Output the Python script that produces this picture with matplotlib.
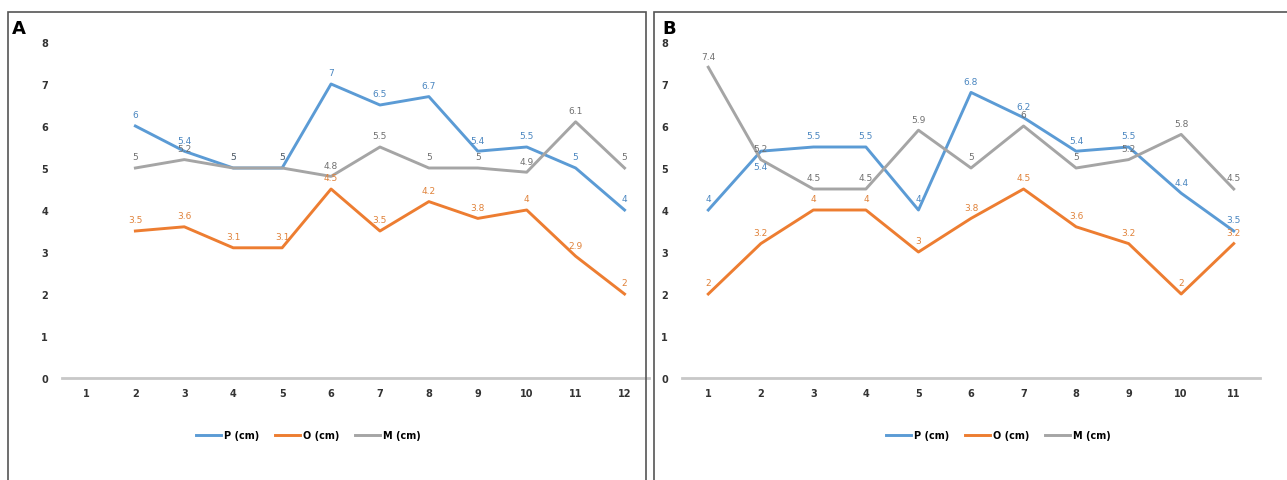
import matplotlib.pyplot as plt
from matplotlib.patches import Rectangle
import numpy as np

# panel A: samples 1..12, no measurement at 1
days_a = list(range(1, 13))
p_a = [np.nan, 6, 5.4, 5, 5, 7, 6.5, 6.7, 5.4, 5.5, 5, 4]
o_a = [np.nan, 3.5, 3.6, 3.1, 3.1, 4.5, 3.5, 4.2, 3.8, 4, 2.9, 2]
m_a = [np.nan, 5, 5.2, 5, 5, 4.8, 5.5, 5, 5, 4.9, 6.1, 5]

# panel B: samples 1..11
days_b = list(range(1, 12))
p_b = [4, 5.4, 5.5, 5.5, 4, 6.8, 6.2, 5.4, 5.5, 4.4, 3.5]
o_b = [2, 3.2, 4, 4, 3, 3.8, 4.5, 3.6, 3.2, 2, 3.2]
m_b = [7.4, 5.2, 4.5, 4.5, 5.9, 5, 6, 5, 5.2, 5.8, 4.5]

names = ['P (cm)', 'O (cm)', 'M (cm)']
colors = ['#5B9BD5', '#ED7D31', '#A5A5A5']
label_colors = ['#4A86C0', '#E0823A', '#707070']

W, H = 1287, 481
fig = plt.figure(figsize=(W / 100, H / 100), dpi=100)
plt.rcParams['font.family'] = 'DejaVu Sans'


def px_axes(x0, x1, y_top, y_bot):
    return fig.add_axes([x0 / W, (H - y_bot) / H, (x1 - x0) / W, (y_bot - y_top) / H])


# panel frames
for x0, x1 in [(8, 646), (654, 1290)]:
    fig.patches.append(Rectangle((x0 / W, -0.01), (x1 - x0) / W, (H - 13) / H + 0.01,
                                 transform=fig.transFigure, fill=False,
                                 edgecolor='#555555', linewidth=1.2))

fig.text(12 / W, (H - 29) / H, 'A', fontsize=13, fontweight='bold', va='center', ha='left')
fig.text(662 / W, (H - 29) / H, 'B', fontsize=13, fontweight='bold', va='center', ha='left')


def draw(ax, days, series, below=()):
    for i, (vals, c, lc, nm) in enumerate(zip(series, colors, label_colors, names)):
        ax.plot(days, vals, color=c, linewidth=2.1, label=nm, solid_joinstyle='round')
        for d, v in zip(days, vals):
            if np.isnan(v):
                continue
            off = -11 if (i, d) in below else 8
            ax.annotate(f'{v:g}', (d, v), xytext=(0, off), textcoords='offset points',
                        ha='center', va='center', fontsize=6.5, color=lc)
    ax.set_ylim(0, 8)
    ax.set_xlim(0.5, len(days) + 0.5)
    ax.set_xticks(days)
    ax.set_yticks(range(0, 9))
    for s in ['left', 'right', 'top']:
        ax.spines[s].set_visible(False)
    ax.spines['bottom'].set_color('#C8C8C8')
    ax.spines['bottom'].set_linewidth(2)
    ax.tick_params(length=0, labelsize=7, colors='#333333', pad=7)
    ax.tick_params(axis='y', pad=10)
    for t in ax.get_xticklabels() + ax.get_yticklabels():
        t.set_fontweight('bold')
    ax.patch.set_alpha(0)


ax_a = px_axes(62, 649, 43, 379)
draw(ax_a, days_a, [p_a, o_a, m_a])
ax_a.legend(loc='center', bbox_to_anchor=(0.42, -0.17), ncol=3, frameon=False,
            handlelength=2.6, columnspacing=1.6, handletextpad=0.3,
            prop={'weight': 'bold', 'size': 7})

ax_b = px_axes(682, 1260, 43, 379)
draw(ax_b, days_b, [p_b, o_b, m_b], below={(0, 2)})
ax_b.legend(loc='center', bbox_to_anchor=(0.547, -0.17), ncol=3, frameon=False,
            handlelength=2.6, columnspacing=1.6, handletextpad=0.3,
            prop={'weight': 'bold', 'size': 7})

fig.savefig('out.png', dpi=100)
